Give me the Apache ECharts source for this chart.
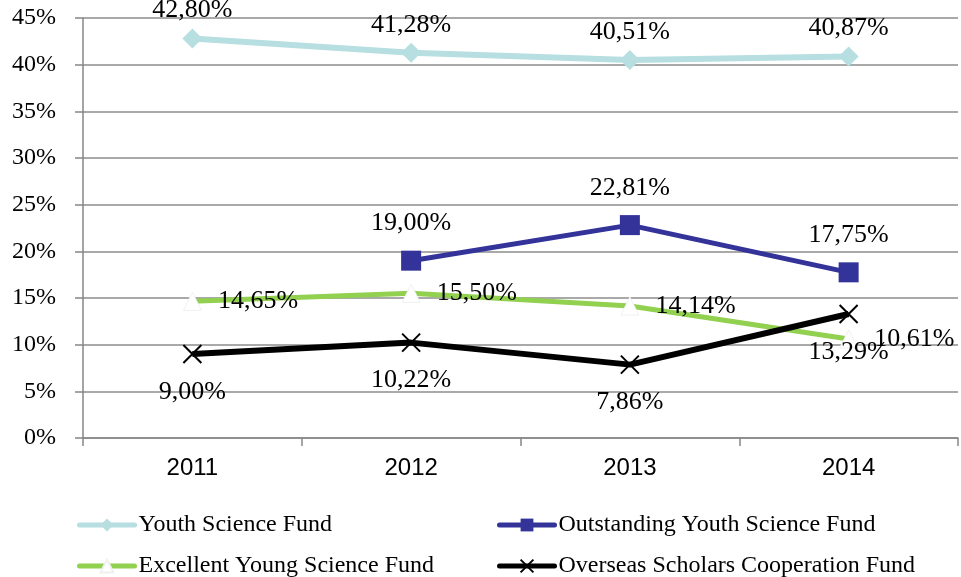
<!DOCTYPE html>
<html>
<head>
<meta charset="utf-8">
<script src="https://cdn.jsdelivr.net/npm/echarts@6/dist/echarts.min.js"></script>
<style>html,body{margin:0;padding:0;background:#fff}#c{width:961px;height:577px}</style>
</head>
<body>
<div id="c"></div>
<script>
const categories = ['2011', '2012', '2013', '2014'];
const youthScience = [42.80, 41.28, 40.51, 40.87];
const outstandingYouth = [null, 19.00, 22.81, 17.75];
const excellentYoung = [14.65, 15.50, 14.14, 10.61];
const overseasScholars = [9.00, 10.22, 7.86, 13.29];
const seriesNames = ['Youth Science Fund', 'Outstanding Youth Science Fund', 'Excellent Young Science Fund', 'Overseas Scholars Cooperation Fund'];

const serif = "'Liberation Serif','Times New Roman',serif";
const fmt = p => p.value == null ? '' : p.value.toFixed(2).replace('.', ',') + '%';
const lbl = (pos, dist) => ({show: true, position: pos, distance: dist, formatter: fmt, fontFamily: serif, fontSize: 26, color: '#000'});
const legendItem = (name, left, top) => ({
  data: [name], left: left, top: top, padding: 0, itemWidth: 55, itemHeight: 16, itemGap: 0,
  lineStyle: {width: 5, cap: 'round'},
  textStyle: {fontFamily: serif, fontSize: 24, color: '#000', padding: [0,0,0,-1]},
  selectedMode: false
});

const chart = echarts.init(document.getElementById('c'));
chart.setOption({
  animation: false,
  grid: {left: 83, right: 3, top: 18, bottom: 139},
  legend: [
    legendItem(seriesNames[0], 77, 513),
    legendItem(seriesNames[1], 497, 513),
    legendItem(seriesNames[2], 77, 554),
    legendItem(seriesNames[3], 497, 554)
  ],
  xAxis: {
    type: 'category', data: categories, boundaryGap: true,
    axisLine: {lineStyle: {color: '#868686', width: 1.5}},
    axisTick: {show: true, length: 8, lineStyle: {color: '#868686', width: 1.5}},
    axisLabel: {fontFamily: "'Liberation Sans',Arial,sans-serif", fontSize: 24, color: '#000', margin: 18}
  },
  yAxis: {
    type: 'value', min: 0, max: 45, interval: 5,
    axisLine: {show: true, lineStyle: {color: '#868686', width: 1.5}},
    axisTick: {show: true, length: 8, lineStyle: {color: '#868686', width: 1.5}},
    splitLine: {lineStyle: {color: '#8c8c8c', width: 1.5}},
    axisLabel: {fontFamily: serif, fontSize: 24, color: '#000', margin: 27, formatter: v => v + '%'}
  },
  series: [
    {name: seriesNames[0], type: 'line', data: youthScience, symbol: 'diamond', symbolSize: 20,
     lineStyle: {color: '#B7DEE0', width: 6}, itemStyle: {color: '#B7DEE0'}, label: lbl('top', 5)},
    {name: seriesNames[1], type: 'line', data: outstandingYouth, symbol: 'rect', symbolSize: 20,
     lineStyle: {color: '#333399', width: 5}, itemStyle: {color: '#333399'}, label: lbl('top', 14)},
    {name: seriesNames[2], type: 'line', data: excellentYoung, symbol: 'triangle', symbolSize: 18,
     lineStyle: {color: '#92D050', width: 5}, itemStyle: {color: '#ffffff', borderColor: '#f0f0f0', borderWidth: 1}, label: lbl('right', 16)},
    {name: seriesNames[3], type: 'line', data: overseasScholars, symbol: 'path://M0,0L10,10M10,0L0,10', symbolSize: 18,
     lineStyle: {color: '#000000', width: 6}, itemStyle: {color: '#000000', borderColor: '#000000', borderWidth: 2}, label: lbl('bottom', 15)}
  ]
});
</script>
</body>
</html>
